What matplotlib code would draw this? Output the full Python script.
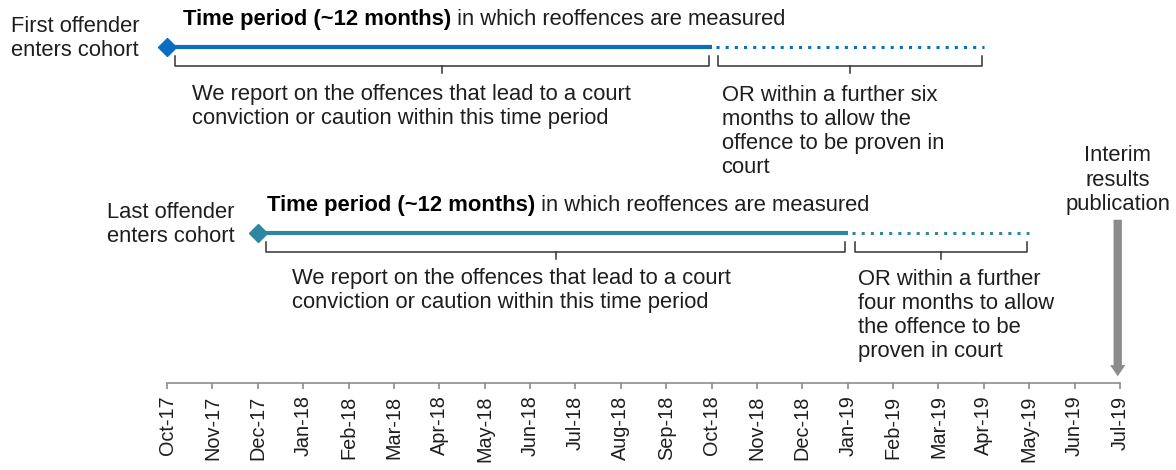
import matplotlib
matplotlib.use("Agg")
import matplotlib.pyplot as plt

# ---------- Data ----------
months = ["Oct-17", "Nov-17", "Dec-17", "Jan-18", "Feb-18", "Mar-18", "Apr-18",
          "May-18", "Jun-18", "Jul-18", "Aug-18", "Sep-18", "Oct-18", "Nov-18",
          "Dec-18", "Jan-19", "Feb-19", "Mar-19", "Apr-19", "May-19", "Jun-19", "Jul-19"]

# cohort windows: start, end of 12-month period, end of extra proving period
first_cohort = ["Oct-17", "Oct-18", "Apr-19"]
last_cohort = ["Dec-17", "Jan-19", "May-19"]
publication = "Jul-19"

first_label = "First offender\nenters cohort"
last_label = "Last offender\nenters cohort"
period_bold = "Time period (~12 months)"
period_rest = " in which reoffences are measured"
report_text = "We report on the offences that lead to a court\nconviction or caution within this time period"
first_extra = "OR within a further six\nmonths to allow the\noffence to be proven in\ncourt"
last_extra = "OR within a further\nfour months to allow\nthe offence to be\nproven in court"
pub_text = "Interim\nresults\npublication"

# ---------- Style ----------
plt.rcParams['font.family'] = ['Liberation Sans', 'DejaVu Sans']
FS = 15.8      # body text
TFS = 14.3     # tick labels
LH = 24.4      # line height in px
TXT = "#1e1e1e"
BLUE = "#0B6DC0"
TEAL = "#2E87A0"
GREY = "#8c8c8c"

idx = {m: i for i, m in enumerate(months)}

fig = plt.figure(figsize=(11.76, 4.70), dpi=100)
ax = fig.add_axes([0, 0, 1, 1])
ppm = (1120 - 167) / 21.0
ax.set_xlim(-167 / ppm, 21 + (1176 - 1120) / ppm)
ax.set_ylim(470, 0)
for s in ["top", "left", "right"]:
    ax.spines[s].set_visible(False)
ax.spines["bottom"].set_position(("data", 383))
ax.spines["bottom"].set_bounds(0, len(months) - 1)
ax.spines["bottom"].set_color(GREY)
ax.spines["bottom"].set_linewidth(1.2)
ax.set_yticks([])
ax.set_xticks(range(len(months)))
ax.set_xticklabels(months, rotation=90, fontsize=TFS, color=TXT)
ax.tick_params(axis="x", direction="out", length=4, width=1.2, color=GREY, pad=5)


def put(x, y_first, text, **kw):
    # y_first = baseline of first line; matplotlib baseline uses the last line
    n = text.count("\n")
    ax.text(x, y_first + n * LH, text, va="baseline", fontsize=FS, color=TXT,
            linespacing=1.2, **kw)


def draw_cohort(cohort, color, y, label, label_x, extra, text_y, title_dx, report_dx):
    s, e, d = (idx[m] for m in cohort)
    ax.plot([s, e], [y, y], color=color, lw=3, solid_capstyle="butt", zorder=3)
    ax.plot([e + 0.1, d], [y, y], color=color, lw=2.2, linestyle=(0, (1, 2)),
            dash_capstyle="butt", zorder=3)
    ax.plot([s], [y], marker="D", markersize=9, color=color, zorder=4)
    # brackets
    yt, yb = y + 9, y + 19
    for x0, x1 in [(s + 0.18, e - 0.05), (e + 0.15, d - 0.05)]:
        ax.plot([x0, x0, x1, x1], [yt, yb, yb, yt], color="#333333", lw=1.1)
        xm = (x0 + x1) / 2
        ax.plot([xm, xm], [yb, yb + 7], color="#333333", lw=1.1)
    # texts
    put(label_x, y - 15, label, ha="center")
    t = ax.text(s + title_dx, y - 22, period_bold, ha="left", va="baseline",
                fontsize=FS, fontweight="bold", color="black")
    ax.annotate(period_rest, xy=(1, 0), xycoords=t, ha="left", va="bottom",
                fontsize=FS, color=TXT)
    put(s + report_dx, text_y, report_text, ha="left")
    put(e + 0.22, text_y, extra, ha="left")


draw_cohort(first_cohort, BLUE, 47, first_label, (75 - 167) / ppm, first_extra, 100, 0.35, 0.55)
draw_cohort(last_cohort, TEAL, 233, last_label, (171 - 167) / ppm, last_extra, 284, 0.2, 0.75)

# publication arrow
p = idx[publication]
put(p - 0.05, 161, pub_text, ha="center")
ax.annotate("", xy=(p - 0.05, 379), xytext=(p - 0.05, 217),
            arrowprops=dict(arrowstyle="simple,head_width=1.1,head_length=0.8,tail_width=0.6",
                            color=GREY, lw=0))

fig.savefig("out.png", dpi=100)
